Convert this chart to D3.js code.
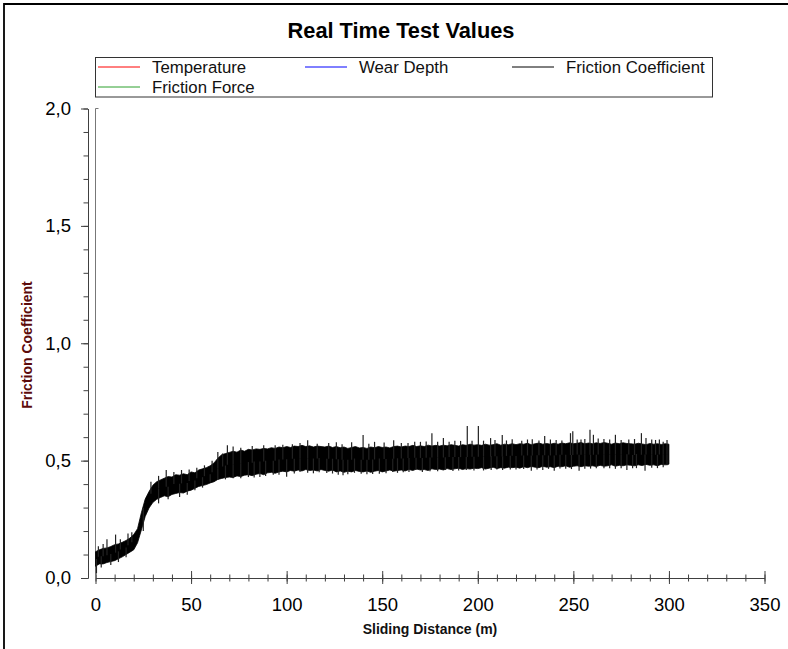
<!DOCTYPE html>
<html>
<head>
<meta charset="utf-8">
<script src="https://cdn.jsdelivr.net/npm/d3@7"></script>
<style>
  body { margin: 0; background: #fff; }
  svg { display: block; font-family: Arial, "Liberation Sans", sans-serif; }
</style>
</head>
<body>
<div id="chart"></div>
<script>
// Chart size.
var width = 788;
var height = 649;

// Legend entries (only the friction coefficient has data).
var legendNames = ["Temperature", "Wear Depth", "Friction Coefficient", "Friction Force"];
var legendColors = ["#ff0000", "#0000ff", "#000000", "#2ca02c"];

// Axis ticks.
var xMajorTicks = [0, 50, 100, 150, 200, 250, 300, 350];
var yMajorTicks = [0, 0.5, 1.0, 1.5, 2.0];

// Friction coefficient band, sampled every 2 m: lower and upper envelope of the noisy trace.
var bandDist = [
  0, 2, 4, 6, 8, 10, 12, 14, 16, 18,
  20, 22, 24, 26, 28, 30, 32, 34, 36, 38,
  40, 42, 44, 46, 48, 50, 52, 54, 56, 58,
  60, 62, 64, 66, 68, 70, 72, 74, 76, 78,
  80, 82, 84, 86, 88, 90, 92, 94, 96, 98,
  100, 102, 104, 106, 108, 110, 112, 114, 116, 118,
  120, 122, 124, 126, 128, 130, 132, 134, 136, 138,
  140, 142, 144, 146, 148, 150, 152, 154, 156, 158,
  160, 162, 164, 166, 168, 170, 172, 174, 176, 178,
  180, 182, 184, 186, 188, 190, 192, 194, 196, 198,
  200, 202, 204, 206, 208, 210, 212, 214, 216, 218,
  220, 222, 224, 226, 228, 230, 232, 234, 236, 238,
  240, 242, 244, 246, 248, 250, 252, 254, 256, 258,
  260, 262, 264, 266, 268, 270, 272, 274, 276, 278,
  280, 282, 284, 286, 288, 290, 292, 294, 296, 298,
  300
];
var bandLow = [
  .050, .060, .060, .066, .070, .074, .082, .090, .100, .110,
  .120, .150, .205, .262, .298, .322, .335, .343, .350, .346,
  .356, .360, .364, .362, .370, .374, .382, .390, .394, .398,
  .405, .410, .420, .424, .428, .430, .428, .435, .432, .438,
  .440, .436, .442, .445, .440, .448, .450, .446, .452, .455,
  .452, .458, .455, .460, .456, .462, .458, .460, .456, .462,
  .458, .455, .460, .452, .456, .450, .455, .452, .458, .454,
  .452, .456, .450, .455, .458, .452, .456, .460, .455, .458,
  .460, .456, .462, .458, .464, .460, .462, .458, .465, .462,
  .464, .460, .466, .462, .465, .468, .462, .466, .464, .468,
  .466, .470, .464, .468, .472, .466, .470, .468, .472, .470,
  .472, .468, .474, .470, .475, .472, .470, .476, .472, .474,
  .470, .476, .474, .478, .472, .476, .478, .474, .478, .476,
  .478, .475, .480, .476, .478, .482, .476, .480, .478, .482,
  .480, .478, .482, .479, .484, .480, .482, .478, .484, .482,
  .485
];
var bandHigh = [
  .112, .120, .126, .128, .134, .142, .145, .152, .160, .170,
  .185, .210, .278, .336, .368, .395, .410, .418, .425, .432,
  .430, .440, .438, .444, .440, .452, .448, .460, .465, .470,
  .478, .490, .510, .525, .530, .535, .540, .536, .545, .540,
  .548, .545, .550, .548, .552, .550, .555, .552, .558, .555,
  .560, .556, .562, .560, .565, .560, .563, .558, .562, .560,
  .558, .562, .556, .560, .555, .558, .552, .556, .560, .554,
  .556, .552, .558, .555, .560, .556, .558, .554, .560, .562,
  .558, .562, .560, .565, .560, .563, .560, .566, .562, .565,
  .562, .566, .563, .568, .565, .562, .568, .565, .570, .566,
  .568, .565, .570, .566, .568, .572, .566, .570, .568, .572,
  .568, .572, .570, .574, .568, .572, .575, .570, .573, .570,
  .574, .570, .575, .572, .576, .572, .574, .577, .572, .575,
  .572, .576, .573, .577, .574, .570, .575, .572, .576, .573,
  .572, .570, .574, .571, .568, .573, .570, .572, .569, .572,
  .570
];

// Isolated spikes sticking out of the band.
var upSpikeDist = [1.5, 4, 6, 10.5, 13, 17, 19, 29, 33, 37, 41, 45, 49, 53, 57, 61, 64, 66.5, 69, 72, 76, 82,
  88, 94, 98, 103, 107, 111, 116, 122, 126, 129, 134, 140, 143, 146, 151, 156, 160, 163.5, 167, 170, 173,
  176, 179, 182, 185, 188, 191, 194.5, 197, 200.3, 203, 206.7, 209, 212.8, 215, 218, 223, 226, 228.5,
  232, 235, 238, 241, 244, 248.5, 249.7, 252, 254, 256, 258.7, 260.5, 263, 266, 269, 272, 275, 279,
  282, 285.6, 288, 291, 293, 295, 297, 299];
var upSpikeVal = [.135, .145, .165, .185, .165, .19, .195, .41, .435, .46, .452, .46, .462, .47, .48, .5, .537,
  .53, .566, .56, .555, .562, .565, .566, .568, .57, .575, .587, .572, .575, .578, .57, .578, .609, .572,
  .58, .577, .587, .575, .575, .58, .58, .582, .617, .58, .596, .58, .585, .584, .647, .585, .647, .585,
  .596, .588, .609, .586, .591, .585, .59, .591, .586, .605, .59, .588, .586, .617, .625, .59, .59, .592,
  .632, .61, .594, .592, .59, .61, .588, .59, .592, .617, .596, .59, .588, .59, .58, .588];
var downSpikeDist = [0.5, 3, 8, 12, 16, 25, 33, 38, 44, 48, 52, 56, 60, 64, 68, 72, 76, 80, 83, 86, 89, 93,
  96, 100, 104, 107, 111, 114, 117, 121, 124, 127, 129.5, 132, 135.5, 139, 142, 145, 148.5, 152, 155.5,
  158, 161, 164, 167.7, 171, 175, 179, 183, 187, 190, 194, 198, 203, 207, 210, 213, 217, 220, 224, 228,
  231, 234, 237, 240, 243, 246, 249, 253, 256, 259, 262, 266, 269, 272, 275, 278, 281, 283, 287.5,
  291, 294, 297, 299];
var downSpikeVal = [.02, .045, .055, .068, .088, .2, .318, .335, .345, .355, .374, .385, .41, .417, .42, .425,
  .425, .43, .428, .43, .435, .44, .44, .431, .445, .452, .448, .446, .45, .447, .445, .44, .438, .442,
  .448, .444, .442, .443, .444, .446, .452, .448, .45, .452, .46, .452, .455, .455, .46, .456, .458, .46,
  .458, .458, .46, .462, .46, .462, .462, .464, .457, .462, .46, .465, .457, .466, .465, .464, .457,
  .465, .466, .468, .467, .468, .465, .468, .46, .468, .468, .457, .47, .468, .472, .48];

var axisColor = "#404040";

var svg = d3.select("#chart").append("svg")
    .attr("width", width)
    .attr("height", height);

// Window frame (top and left edges only are visible).
svg.append("path")
    .attr("d", "M4,649 V4 H788")
    .attr("fill", "none")
    .attr("stroke", "#000")
    .attr("stroke-width", 1.8);

// Title.
svg.append("text")
    .attr("x", 401)
    .attr("y", 38)
    .attr("text-anchor", "middle")
    .style("font-size", "21.8px")
    .style("font-weight", "bold")
    .text("Real Time Test Values");

// Legend.
var legend = svg.append("g");
legend.append("rect")
    .attr("x", 95.5).attr("y", 57.5)
    .attr("width", 617).attr("height", 39.5)
    .attr("fill", "none")
    .attr("stroke", "#333");

var legendPos = [[98, 67], [305, 67], [512, 67], [98, 87]];
var item = legend.selectAll("g.item")
    .data(legendNames)
    .enter().append("g")
    .attr("class", "item")
    .attr("transform", function(d, i) { return "translate(" + legendPos[i][0] + "," + legendPos[i][1] + ")"; });
item.append("line")
    .attr("x1", 0).attr("x2", 42)
    .attr("stroke", function(d, i) { return legendColors[i]; })
    .attr("stroke-width", 1);
item.append("text")
    .attr("x", 54)
    .attr("dy", "0.35em")
    .style("font-size", "16.8px")
    .style("fill", "#111")
    .text(function(d) { return d; });

// Scales.
var x = d3.scaleLinear().domain([0, 350]).range([95.5, 764.5]);
var y = d3.scaleLinear().domain([0, 2]).range([578, 108.5]);

// X axis: ticks cross the axis line.
var xMinor = svg.append("g")
    .attr("transform", "translate(0," + y(0) + ")")
    .call(d3.axisBottom(x).tickValues(d3.range(0, 351, 10)).tickSize(3.5).tickSizeOuter(0).tickFormat(""));
xMinor.selectAll(".tick line").attr("y1", -3.5);

var xAxis = svg.append("g")
    .attr("transform", "translate(0," + y(0) + ")")
    .call(d3.axisBottom(x).tickValues(xMajorTicks).tickSize(6).tickSizeOuter(0).tickPadding(14));
xAxis.selectAll(".tick line").attr("y1", -7);

// Y axis, offset to the left of the plot area.
var yMinor = svg.append("g")
    .attr("transform", "translate(88,0)")
    .call(d3.axisLeft(y).tickValues(d3.range(0, 2.01, 0.1)).tickSize(4.5).tickSizeOuter(0).tickFormat(""));

var yAxis = svg.append("g")
    .attr("transform", "translate(88,0)")
    .call(d3.axisLeft(y).tickValues(yMajorTicks).tickSize(7).tickSizeOuter(0).tickPadding(10)
      .tickFormat(function(d) { return d.toFixed(1).replace(".", ","); }));

svg.selectAll(".domain, .tick line").attr("stroke", axisColor);
svg.selectAll(".tick text")
    .style("font-size", "18.5px")
    .style("font-family", "Arial, 'Liberation Sans', sans-serif")
    .attr("fill", "#000");

// Thin line at the left edge of the plot area.
svg.append("path")
    .attr("d", "M" + (x(0) + 3) + "," + y(2) + " H" + x(0) + " V" + y(0))
    .attr("fill", "none")
    .attr("stroke", "#777")
    .attr("stroke-width", 1);

// Axis titles.
svg.append("text")
    .attr("x", 430)
    .attr("y", 634)
    .attr("text-anchor", "middle")
    .style("font-size", "14px")
    .style("font-weight", "bold")
    .style("fill", "#111")
    .text("Sliding Distance (m)");

svg.append("text")
    .attr("transform", "translate(32,345) rotate(-90)")
    .attr("text-anchor", "middle")
    .style("font-size", "14px")
    .style("font-weight", "bold")
    .style("fill", "#5c0a0a")
    .text("Friction Coefficient");

// Friction coefficient trace.
var band = d3.area()
    .x(function(d, i) { return x(bandDist[i]); })
    .y0(function(d, i) { return y(bandLow[i]); })
    .y1(function(d, i) { return y(bandHigh[i]); });

svg.append("path")
    .datum(bandDist)
    .attr("d", band)
    .attr("fill", "#000")
    .attr("stroke", "#000")
    .attr("stroke-width", 0.8);

function bandMid(dist) {
  var i = Math.min(bandDist.length - 1, Math.round(dist / 2));
  return (bandLow[i] + bandHigh[i]) / 2;
}

var spikes = upSpikeDist.map(function(d, i) { return [d, upSpikeVal[i]]; })
    .concat(downSpikeDist.map(function(d, i) { return [d, downSpikeVal[i]]; }));

svg.append("g").selectAll("line")
    .data(spikes)
    .enter().append("line")
    .attr("x1", function(d) { return x(d[0]); })
    .attr("x2", function(d) { return x(d[0]); })
    .attr("y1", function(d) { return y(bandMid(d[0])); })
    .attr("y2", function(d) { return y(d[1]); })
    .attr("stroke", "#222")
    .attr("stroke-width", 1.2);
</script>
</body>
</html>
